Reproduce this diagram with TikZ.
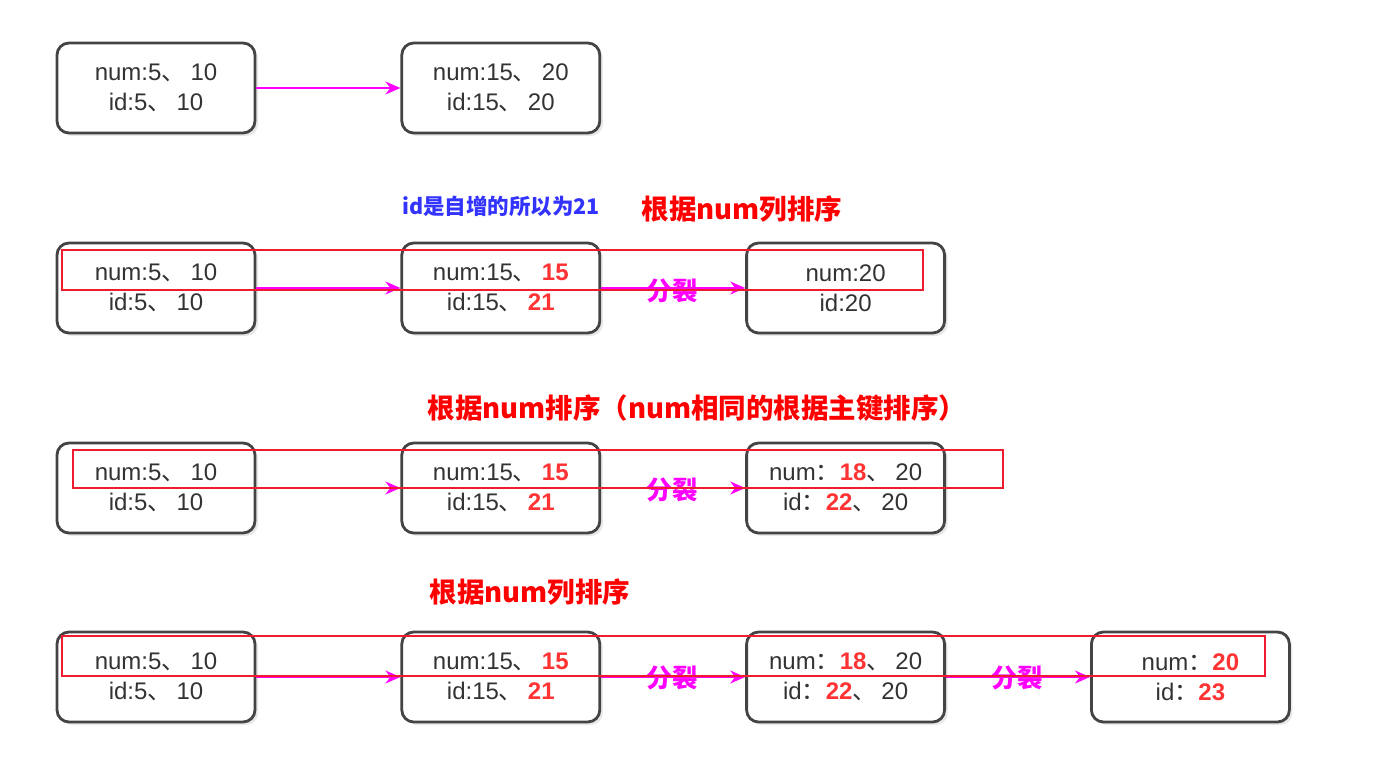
\documentclass[tikz,border=0pt]{standalone}
\usepackage{fontspec}
\setmainfont{Liberation Sans}
\newfontfamily\cjk{Noto Sans CJK SC}
\usetikzlibrary{positioning,arrows.meta,shadows}

\definecolor{boxline}{HTML}{444444}
\definecolor{txtgray}{HTML}{333333}
\definecolor{hotred}{HTML}{FF3333}
\definecolor{framered}{HTML}{EE1C2E}
\definecolor{idblue}{HTML}{3333FF}
\definecolor{pinkline}{HTML}{FF00FF}
\newcommand{\dn}{{\cjk 、}\kern5pt}
\newcommand{\cn}{{\cjk ：}}
\newcommand{\hl}[1]{{\bfseries\color{hotred}#1}}

\begin{document}
\begin{tikzpicture}[x=1pt,y=-1pt,
    rec/.style={draw=boxline, line width=2.8pt, rounded corners=12pt, fill=white,
        minimum width=198pt, minimum height=90pt, align=center, text=txtgray,
        font=\fontsize{24}{29.5}\selectfont,
        drop shadow={opacity=0.18, shadow xshift=3pt, shadow yshift=-3pt}},
    link/.style={-{Stealth[length=15pt,width=13pt]}, pinkline, line width=1.7pt},
    split/.style={font=\cjk\bfseries\fontsize{25.5}{25.5}\selectfont, text=pinkline},
    title/.style={font=\cjk\bfseries\fontsize{27.5}{27.5}\selectfont, text=red},
    frame/.style={draw=framered, line width=2.4pt}]
    \useasboundingbox (0,0) rectangle (1380,762);

    % row 1
    \node[rec] (a1) at (156,88) {num:5\dn 10\\id:5\dn 10};
    \node[rec, right=144pt of a1] (b1) {num:15\dn 20\\id:15\dn 20};
    \draw[link] (a1) -- (b1);

    % row 2
    \node[font=\cjk\bfseries\fontsize{21.5}{21.5}\selectfont, text=idblue] (note) at (501,206) {id是自增的所以为21};
    \node[title] (t2) at (742,209) {根据num列排序};
    \node[rec] (a2) at (156,288) {num:5\dn 10\\id:5\dn 10};
    \node[rec, right=144pt of a2] (b2) {num:15\dn\hl{15}\\id:15\dn\hl{21}};
    \node[rec, right=144pt of b2] (c2) {num:20\\id:20};
    \draw[link] (a2) -- (b2);
    \draw[link] (b2) -- (c2);
    \node[split] (s2) at (672,291) {分裂};
    \draw[frame] (62,250) rectangle (923,290);

    % row 3
    \node[title] (t3) at (697,408) {根据num排序（num相同的根据主键排序）};
    \node[rec] (a3) at (156,488) {num:5\dn 10\\id:5\dn 10};
    \node[rec, right=144pt of a3] (b3) {num:15\dn\hl{15}\\id:15\dn\hl{21}};
    \node[rec, right=144pt of b3] (c3) {num\cn\hl{18}\dn 20\\id\cn\hl{22}\dn 20};
    \draw[link] (a3) -- (b3);
    \draw[link] (b3) -- (c3);
    \node[split] (s3) at (672,490) {分裂};
    \draw[frame] (73,450) rectangle (1003,488);

    % row 4
    \node[title] (t4) at (530,592) {根据num列排序};
    \node[rec] (a4) at (156,677) {num:5\dn 10\\id:5\dn 10};
    \node[rec, right=144pt of a4] (b4) {num:15\dn\hl{15}\\id:15\dn\hl{21}};
    \node[rec, right=144pt of b4] (c4) {num\cn\hl{18}\dn 20\\id\cn\hl{22}\dn 20};
    \node[rec, right=144pt of c4] (d4) {num\cn\hl{20}\\id\cn\hl{23}};
    \foreach \u/\v in {a4/b4, b4/c4, c4/d4}
        \draw[link] (\u) -- (\v);
    \node[split] (s4) at (672,678) {分裂};
    \node[split] (s5) at (1017,678) {分裂};
    \draw[frame] (62,636) rectangle (1265,676);
\end{tikzpicture}
\end{document}
